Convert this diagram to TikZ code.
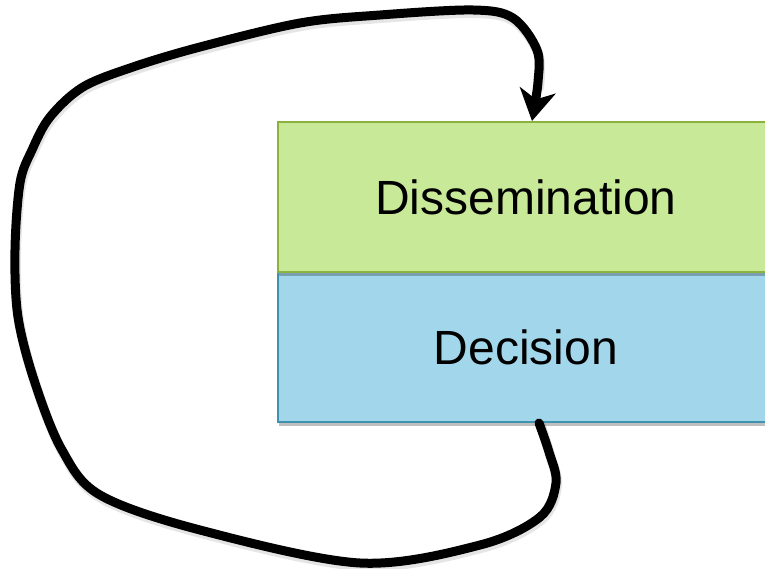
\documentclass[tikz,border=0pt]{standalone}
\usepackage{fontspec}
\setmainfont{Liberation Sans}
\usetikzlibrary{arrows.meta,shadows}

\definecolor{grnFill}{HTML}{C8E997}
\definecolor{grnMid}{HTML}{E4F4CC}
\definecolor{grnLine}{HTML}{8AB23D}
\definecolor{bluFill}{HTML}{A2D6EB}
\definecolor{bluMid}{HTML}{CDE9F4}
\definecolor{bluLine}{HTML}{3F93AE}

\tikzset{
  stagebox/.style={rectangle, minimum width=496pt, minimum height=150pt,
    inner sep=0pt, line width=2pt, font=\fontsize{48}{56}\selectfont,
    drop shadow={shadow xshift=1pt, shadow yshift=-4pt, opacity=0.25, fill=black}},
  greenbox/.style={stagebox, draw=grnLine, left color=grnFill, middle color=grnMid, right color=grnFill},
  bluebox/.style={stagebox, draw=bluLine, left color=bluFill, middle color=bluMid, right color=bluFill},
  feedback/.style={line width=9pt, line cap=round, line join=round,
    -{Stealth[length=31pt 0 0, width=36pt 0 0, inset=9pt 0]}},
}

\begin{document}
\begin{tikzpicture}[x=1pt, y=-1pt]
  \useasboundingbox (0,0) rectangle (765,569);

  % two stacked stages
  \node[bluebox]  (dec) at (526,347) {Decision};
  \node[greenbox] (dis) at (526,197) {Dissemination};

  % soft shadow under the loop
  \draw[line width=10pt, black, opacity=0.10, line cap=round]
    plot[smooth, tension=0.55] coordinates {
      (541,426) (550,455) (557,486) (541,520) (481,548)
      (361,566) (201,533) (101,498) (63,453) (36,386) (19,320) (16,253)
      (21,186) (33,153) (51,120) (84,90) (134,70) (201,50) (301,26)
      (381,18) (474,13) (514,21) (538,53) (539,88)};

  % feedback loop from the bottom stage back into the top stage
  \draw[feedback]
    plot[smooth, tension=0.55] coordinates {
      ([xshift=13pt]dec.south) (549,452) (556,483) (540,517) (480,545)
      (360,563) (200,530) (100,495) (62,450) (35,383) (18,317) (15,250)
      (20,183) (32,150) (50,117) (83,87) (133,67) (200,47) (300,23)
      (380,15) (473,10) (513,18) (537,50) (538,82) ([xshift=6pt]dis.north)};
\end{tikzpicture}
\end{document}
